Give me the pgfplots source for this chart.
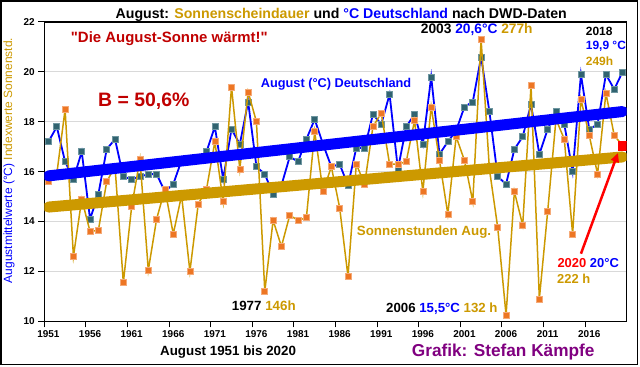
\documentclass[border=0pt]{standalone}
\usepackage{fontspec}
\setmainfont{Liberation Sans}
\newfontfamily\qfont{Liberation Sans}[Ligatures=TeXOff]
\usepackage{pgfplots}
\usepackage{pgfplotstable}
\pgfplotsset{compat=1.18}
\usetikzlibrary{arrows.meta}

\definecolor{goldc}{RGB}{204,153,0}
\definecolor{bluec}{RGB}{0,0,255}
\definecolor{darkredc}{RGB}{192,0,0}
\definecolor{purplec}{RGB}{128,0,128}
\definecolor{mblue}{RGB}{49,99,112}
\definecolor{mblueedge}{RGB}{110,150,160}
\definecolor{morange}{RGB}{237,118,36}
\definecolor{morangeedge}{RGB}{245,170,120}
\definecolor{gridc}{RGB}{217,217,217}
\newcommand{\fs}[1]{\fontsize{#1}{#1}\selectfont}

\pgfplotstableread{
year temp
1951 17.2
1952 17.8
1953 16.4
1954 15.7
1955 16.8
1956 14.1
1957 15.1
1958 16.9
1959 17.3
1960 15.8
1961 15.7
1962 15.8
1963 15.9
1964 15.9
1965 15.2
1966 15.5
1967 16.45
1968 16.45
1969 16.5
1970 16.8
1971 17.8
1972 15.7
1973 17.7
1974 17.1
1975 18.8
1976 16.2
1977 15.9
1978 15.1
1979 15.45
1980 16.6
1981 16.4
1982 17.3
1983 18.1
1984 17.1
1985 16.2
1986 16.3
1987 15.45
1988 16.95
1989 16.95
1990 18.3
1991 17.9
1992 19.1
1993 16.1
1994 17.8
1995 18.3
1996 17.1
1997 19.8
1998 16.7
1999 17.2
2000 17.65
2001 18.6
2002 18.8
2003 20.6
2004 18.4
2005 15.8
2006 15.5
2007 16.9
2008 17.4
2009 18.7
2010 16.7
2011 17.7
2012 18.4
2013 17.9
2014 16.0
2015 19.9
2016 17.7
2017 17.9
2018 19.9
2019 19.3
2020 20.0
}\temptable

\pgfplotstableread{
year sun
1951 15.6
1952 15.9
1953 18.5
1954 12.6
1955 14.9
1956 13.6
1957 13.65
1958 15.6
1959 16.2
1960 11.55
1961 14.6
1962 16.5
1963 12.05
1964 14.1
1965 15.3
1966 13.5
1967 15.05
1968 12.0
1969 14.7
1970 15.3
1971 17.2
1972 14.8
1973 19.4
1974 16.1
1975 19.2
1976 18.0
1977 11.2
1978 14.05
1979 13.0
1980 14.25
1981 14.05
1982 14.15
1983 17.6
1984 15.2
1985 16.2
1986 14.55
1987 11.8
1988 16.3
1989 15.5
1990 17.8
1991 18.35
1992 16.3
1993 16.3
1994 16.4
1995 18.05
1996 15.2
1997 18.6
1998 16.45
1999 14.3
2000 17.4
2001 16.45
2002 14.8
2003 21.3
2004 16.1
2005 13.75
2006 10.25
2007 15.2
2008 13.85
2009 19.45
2010 10.9
2011 14.4
2012 18.1
2013 17.3
2014 13.5
2015 18.9
2016 17.45
2017 15.9
2018 19.15
2019 17.45
2020 17.05
}\suntable

\begin{document}
\begin{tikzpicture}[x=1bp,y=1bp]
\useasboundingbox (-44.3,-44.7) rectangle (595.7,321.3);
\draw[black, line width=1.6bp] (-43.5,-43.2) rectangle (593.0,320.5);
\begin{axis}[
  at={(0,0)}, anchor=south west,
  scale only axis, width=582.4bp, height=299.3bp,
  xmin=1950.5, xmax=2020.5, ymin=10, ymax=22,
  clip marker paths=true,
  xtick={1950.5,1955.5,1960.5,1965.5,1970.5,1975.5,1980.5,1985.5,1990.5,1995.5,2000.5,2005.5,2010.5,2015.5},
  xticklabels={1951,1956,1961,1966,1971,1976,1981,1986,1991,1996,2001,2006,2011,2016},
  xticklabel style={xshift=4.16bp},
  ytick={10,12,...,22},
  tick pos=left, tick align=outside, major tick length=6bp,
  tick style={black, line width=1bp},
  ymajorgrids, major grid style={gridc, line width=1bp},
  axis line style={black, line width=1.3bp},
  /pgf/number format/assume math mode=true,
  ticklabel style={font=\fs{10}\bfseries},
]
\addplot[bluec, line width=1.8bp, mark=square*, mark size=3bp,
  mark options={fill=mblue, draw=mblueedge, line width=0.6bp, solid}]
  table[x=year, y=temp] {\temptable};
\addplot[goldc, line width=1.5bp, mark=square*, mark size=3bp,
  mark options={fill=morange, draw=morangeedge, line width=0.6bp, solid}]
  table[x=year, y=sun] {\suntable};
\addplot[bluec, line width=11bp, line cap=round] coordinates {(1951,15.83) (2020,18.41)};
\addplot[goldc, line width=11bp, line cap=round] coordinates {(1951,14.58) (2020,16.59)};
\addplot[only marks, mark=square*, mark size=4.5bp, mark options={fill=red, draw=red}] coordinates {(2020,17.05)};
\draw[red, line width=2.5bp, -{Triangle[length=9bp,width=8bp]}] (axis cs:2015.0,12.71) -- (axis cs:2019.45,16.75);
\end{axis}
\begin{scope}[every node/.style={inner sep=0pt, font=\bfseries}]
\node at (296.95,306.7) {\fs{14.2}August: \textcolor{goldc}{Sonnenscheindauer} und \textcolor{bluec}{°C Deutschland} nach DWD-Daten};
\node[anchor=west, text=darkredc] at (26.4,282.3) {\qfont\bfseries\fs{15}"Die August-Sonne wärmt!"};
\node[anchor=west, text=darkredc] at (53.7,219.6) {\fs{19.5}B = 50,6\%};
\node[anchor=west, text=bluec] at (216.4,237) {\fs{12.8}August (°C) Deutschland};
\node[anchor=west, text=goldc] at (312.4,89.3) {\fs{13.4}Sonnenstunden Aug.};
\node[anchor=west] at (187.4,15.6) {\fs{13.4}1977 \textcolor{goldc}{146h}};
\node[anchor=west] at (341.7,12.6) {\fs{13.3}2006 \textcolor{bluec}{15,5°C} \textcolor{goldc}{132 h}};
\node[anchor=west] at (376.4,291.3) {\fs{13.8}2003 \textcolor{bluec}{20,6°C} \textcolor{goldc}{277h}};
\node[anchor=west] at (541.4,289.6) {\fs{12}2018};
\node[anchor=west, text=bluec] at (541.4,274.6) {\fs{12}19,9 °C};
\node[anchor=west, text=goldc] at (541.4,259.6) {\fs{12}249h};
\node[anchor=west] at (513,58.6) {\fs{13}\textcolor{red}{2020} \textcolor{bluec}{20°C}};
\node[anchor=west, text=goldc] at (512.7,42.6) {\fs{13}222 h};
\node[anchor=west] at (115.7,-30.7) {\fs{13.4}August 1951 bis 2020};
\node[anchor=west, text=purplec] at (367.4,-30.7) {\fs{17.3}Grafik: Stefan Kämpfe};
\node[rotate=90, font=\mdseries] at (-35.3,160.8) {\fs{12}\textcolor{bluec}{Augustmittelwerte (°C)} \textcolor{goldc}{Indexwerte Sonnenstd.}};
\end{scope}
\end{tikzpicture}
\end{document}
